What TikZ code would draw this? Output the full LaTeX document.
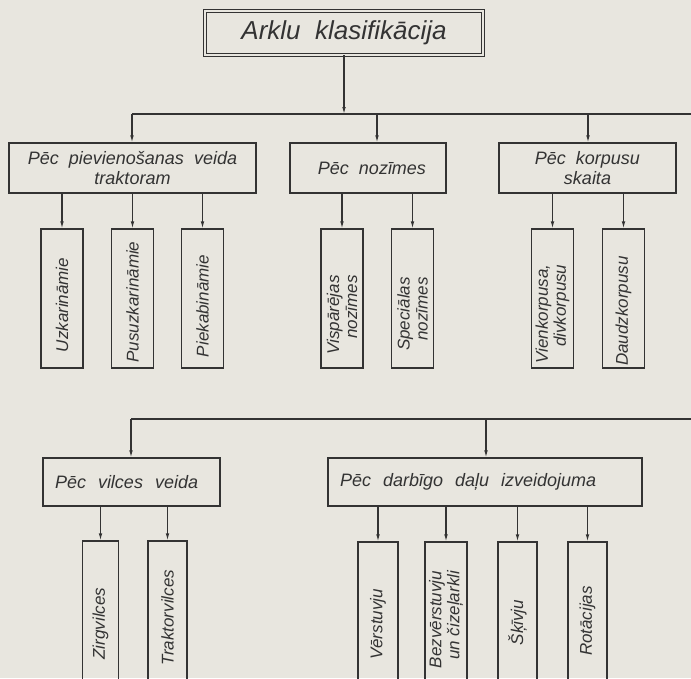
\documentclass[tikz,border=0pt]{standalone}
\usepackage{fontspec}
\setmainfont{Liberation Sans}
\usetikzlibrary{arrows.meta}
\definecolor{paper}{HTML}{E8E6DF}
\definecolor{ink}{HTML}{333333}
\tikzset{
  ln/.style={draw=ink, line width=1.1pt},
  arr/.style={ln, -{Latex[length=7pt,width=3.6pt]}},
  hbox/.style={ln, rectangle, inner sep=0pt, text=ink, font=\fontsize{18}{20}\selectfont\itshape, align=center},
  lbox/.style={ln, rectangle, inner ysep=0pt, inner xsep=12pt, text=ink, font=\fontsize{18}{20}\selectfont\itshape, align=left, minimum height=48pt},
  vbox/.style={ln, rectangle, inner sep=0pt},
  vtext/.style={rotate=90, text=ink, font=\fontsize{17}{18}\selectfont\itshape, align=right, inner sep=0pt},
}
\begin{document}
\begin{tikzpicture}[x=1pt,y=-1pt]
\useasboundingbox (0,0) rectangle (691,678);
\fill[paper] (0,0) rectangle (691,678);

% title
\node[ln, double=paper, double distance=2.6pt, line width=0.9pt, minimum width=278pt, minimum height=44pt, inner sep=0pt, text=ink, font=\fontsize{26}{30}\selectfont\itshape] (T) at (344,33) {Arklu\ \ klasifikācija};

% first bus
\coordinate (h1L) at (132,114);
\coordinate (h1R) at (691,114);
\coordinate (h1B) at (377,114);
\coordinate (h1C) at (588,114);

\node[hbox, minimum width=247pt, minimum height=50pt] (A) at (132.5,168) {Pēc\ \ pievienošanas\ \ veida\\traktoram};
\node[hbox, minimum width=156pt, minimum height=50pt] (B) at (368,168) {\hspace*{8pt}Pēc\ \ nozīmes};
\node[hbox, minimum width=177pt, minimum height=50pt] (C) at (587.5,168) {Pēc\ \ korpusu\\skaita};

\draw[arr] (T.south) -- (T.south |- h1L);
\draw[ln] (h1L) -- (h1R);
\draw[arr] (h1L) -- (h1L |- A.north);
\draw[arr] (h1B) -- (h1B |- B.north);
\draw[arr] (h1C) -- (h1C |- C.north);

% children of A
\node[vbox, minimum width=42pt, minimum height=139pt] (A1) at (62,298.5) {};
\node[vbox, minimum width=42pt, minimum height=139pt] (A2) at (132.5,298.5) {};
\node[vbox, minimum width=42pt, minimum height=139pt] (A3) at (202.5,298.5) {};
\node[vtext] (A1t) at (62,305) {Uzkarināmie};
\node[vtext] (A2t) at (132.5,302) {Pusuzkarināmie};
\node[vtext] (A3t) at (202.5,306) {Piekabināmie};
\foreach \c in {A1,A2,A3} \draw[arr] (\c.north |- A.south) -- (\c.north);

% children of B
\node[vbox, minimum width=42pt, minimum height=139pt] (B1) at (342,298.5) {};
\node[vbox, minimum width=42pt, minimum height=139pt] (B2) at (412.5,298.5) {};
\node[vtext] (B1t) at (342,315) {Vispārējas\\nozīmes};
\node[vtext] (B2t) at (412.5,314) {Speciālas\\nozīmes};
\foreach \c in {B1,B2} \draw[arr] (\c.north |- B.south) -- (\c.north);

% children of C
\node[vbox, minimum width=42pt, minimum height=139pt] (C1) at (552.5,298.5) {};
\node[vbox, minimum width=42pt, minimum height=139pt] (C2) at (623.5,298.5) {};
\node[vtext] (C1t) at (552.5,314) {Vienkorpusa,\\divkorpusu};
\node[vtext] (C2t) at (623.5,311) {Daudzkorpusu};
\foreach \c in {C1,C2} \draw[arr] (\c.north |- C.south) -- (\c.north);

% second bus
\coordinate (h2L) at (131,419);
\coordinate (h2R) at (691,419);
\coordinate (h2E) at (486,419);

\node[lbox, text width=153pt] (D) at (131.5,482) {Pēc\ \ vilces\ \ veida};
\node[lbox, text width=290pt] (E) at (485,482) {Pēc\ \ darbīgo\ \ daļu\ \ izveidojuma};

\draw[ln] (h2L) -- (h2R);
\draw[arr] (h2L) -- (h2L |- D.north);
\draw[arr] (h2E) -- (h2E |- E.north);

% children of D
\node[vbox, minimum width=36pt, minimum height=159pt] (D1) at (100.5,620.5) {};
\node[vbox, minimum width=39pt, minimum height=159pt] (D2) at (167.5,620.5) {};
\node[vtext] (D1t) at (100.5,623.5) {Zirgvilces};
\node[vtext] (D2t) at (167.5,617.5) {Traktorvilces};
\foreach \c in {D1,D2} \draw[arr] (\c.north |- D.south) -- (\c.north);

% children of E
\node[vbox, minimum width=40pt, minimum height=158pt] (E1) at (378,621) {};
\node[vbox, minimum width=42pt, minimum height=158pt] (E2) at (446,621) {};
\node[vbox, minimum width=39pt, minimum height=158pt] (E3) at (517.5,621) {};
\node[vbox, minimum width=39pt, minimum height=158pt] (E4) at (587.5,621) {};
\node[vtext] (E1t) at (378,624.5) {Vērstuvju};
\node[vtext] (E2t) at (446,619.5) {Bezvērstuvju\\un čizeļarkli};
\node[vtext] (E3t) at (517.5,622.5) {Šķīvju};
\node[vtext] (E4t) at (587.5,621) {Rotācijas};
\foreach \c in {E1,E2,E3,E4} \draw[arr] (\c.north |- E.south) -- (\c.north);
\end{tikzpicture}
\end{document}
